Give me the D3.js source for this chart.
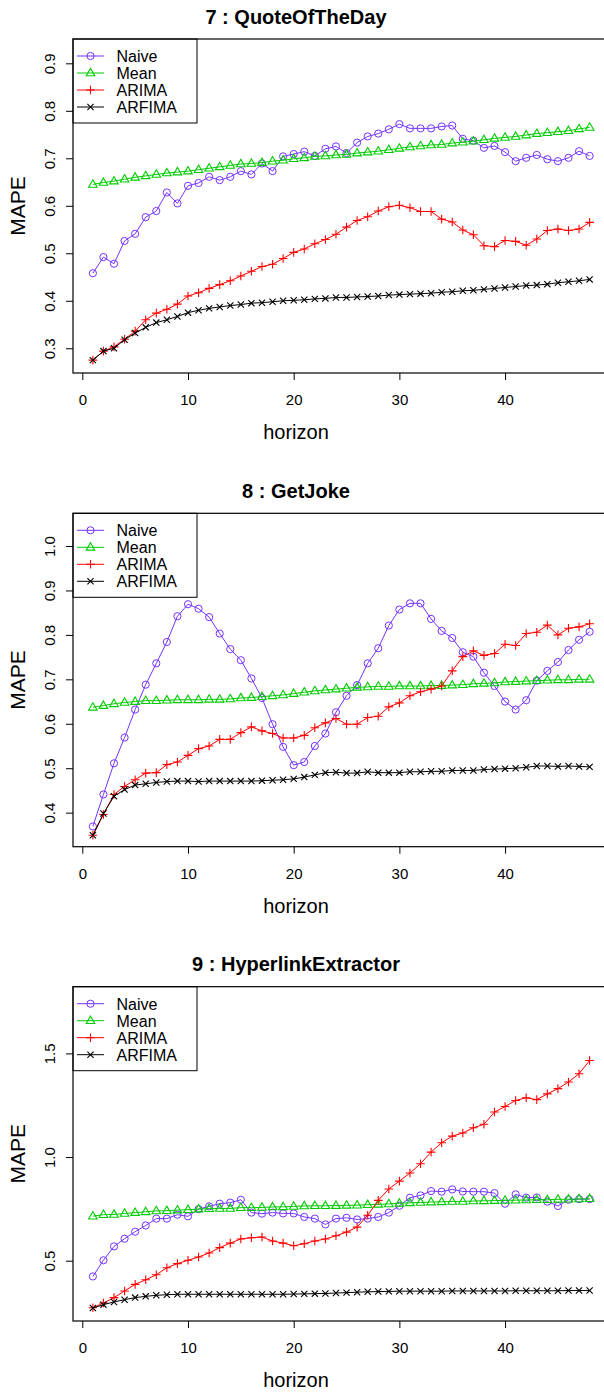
<!DOCTYPE html>
<html><head><meta charset="utf-8">
<script src="https://cdn.jsdelivr.net/npm/d3@7"></script>
<style>
html,body{margin:0;padding:0;background:#fff;}
svg{display:block;font-family:"Liberation Sans",Arial,Helvetica,sans-serif;}
</style></head>
<body>
<svg id="chart" width="604" height="1392"></svg>
<script>
// ---------- data ----------
const horizon = [1,2,3,4,5,6,7,8,9,10,11,12,13,14,15,16,17,18,19,20,21,22,23,24,25,26,27,28,29,30,31,32,33,34,35,36,37,38,39,40,41,42,43,44,45,46,47,48];
const seriesNames = ["Naive","Mean","ARIMA","ARFIMA"];
const xTicks = [0,10,20,30,40];

const titles = ["7 : QuoteOfTheDay","8 : GetJoke","9 : HyperlinkExtractor"];
const yTicks1 = [0.3,0.4,0.5,0.6,0.7,0.8,0.9];
const yTicks2 = [0.4,0.5,0.6,0.7,0.8,0.9,1.0];
const yTicks3 = [0.5,1.0,1.5];

const p1Naive = [0.458,0.492,0.478,0.526,0.541,0.576,0.589,0.628,0.605,0.642,0.648,0.661,0.654,0.661,0.673,0.666,0.689,0.673,0.704,0.709,0.714,0.705,0.720,0.725,0.711,0.733,0.746,0.752,0.761,0.772,0.763,0.763,0.763,0.767,0.769,0.741,0.737,0.722,0.726,0.713,0.694,0.701,0.707,0.698,0.694,0.701,0.715,0.705];
const p1Mean = [0.645,0.649,0.652,0.656,0.660,0.663,0.666,0.669,0.671,0.673,0.676,0.679,0.682,0.685,0.688,0.689,0.691,0.694,0.696,0.699,0.701,0.704,0.705,0.707,0.708,0.711,0.713,0.715,0.718,0.721,0.724,0.726,0.728,0.729,0.732,0.734,0.736,0.739,0.742,0.744,0.746,0.749,0.752,0.754,0.756,0.758,0.762,0.765];
const p1Arima = [0.275,0.294,0.303,0.319,0.336,0.360,0.374,0.382,0.393,0.410,0.417,0.426,0.434,0.442,0.452,0.462,0.472,0.477,0.489,0.502,0.509,0.520,0.529,0.540,0.555,0.569,0.577,0.589,0.598,0.601,0.596,0.588,0.588,0.572,0.566,0.549,0.539,0.516,0.514,0.527,0.525,0.517,0.530,0.548,0.551,0.548,0.551,0.565];
const p1Arfima = [0.275,0.294,0.300,0.318,0.332,0.344,0.354,0.360,0.367,0.375,0.380,0.384,0.387,0.390,0.392,0.395,0.396,0.398,0.400,0.401,0.402,0.404,0.405,0.407,0.407,0.408,0.409,0.410,0.412,0.413,0.414,0.415,0.416,0.418,0.419,0.421,0.422,0.424,0.426,0.428,0.430,0.432,0.433,0.435,0.438,0.440,0.442,0.445];

const p2Naive = [0.369,0.441,0.511,0.569,0.632,0.688,0.736,0.784,0.842,0.869,0.859,0.840,0.803,0.768,0.743,0.702,0.658,0.599,0.548,0.507,0.514,0.550,0.578,0.626,0.663,0.687,0.736,0.770,0.821,0.857,0.871,0.871,0.836,0.809,0.793,0.761,0.751,0.715,0.685,0.650,0.632,0.653,0.697,0.719,0.739,0.766,0.789,0.807];
const p2Mean = [0.637,0.641,0.645,0.648,0.650,0.652,0.652,0.653,0.654,0.654,0.654,0.655,0.655,0.656,0.658,0.659,0.661,0.663,0.665,0.668,0.671,0.674,0.676,0.678,0.680,0.682,0.683,0.684,0.684,0.685,0.685,0.685,0.686,0.686,0.687,0.688,0.690,0.691,0.692,0.694,0.695,0.696,0.697,0.698,0.699,0.699,0.700,0.700];
const p2Arima = [0.349,0.396,0.441,0.459,0.474,0.489,0.490,0.508,0.514,0.529,0.544,0.550,0.565,0.565,0.580,0.593,0.584,0.578,0.568,0.568,0.574,0.591,0.602,0.612,0.599,0.599,0.614,0.617,0.638,0.647,0.663,0.672,0.678,0.685,0.719,0.751,0.764,0.754,0.758,0.779,0.776,0.803,0.806,0.822,0.800,0.815,0.818,0.825];
const p2Arfima = [0.349,0.398,0.437,0.452,0.462,0.465,0.468,0.470,0.471,0.471,0.470,0.471,0.471,0.471,0.471,0.471,0.472,0.473,0.474,0.476,0.480,0.485,0.490,0.491,0.489,0.489,0.492,0.490,0.490,0.490,0.492,0.492,0.493,0.493,0.495,0.495,0.495,0.497,0.498,0.499,0.500,0.502,0.505,0.505,0.504,0.505,0.504,0.503];

const p3Naive = [0.424,0.502,0.569,0.606,0.640,0.670,0.703,0.703,0.722,0.714,0.749,0.762,0.775,0.780,0.794,0.732,0.727,0.732,0.728,0.728,0.711,0.703,0.675,0.703,0.707,0.699,0.703,0.711,0.732,0.765,0.804,0.815,0.836,0.833,0.844,0.834,0.833,0.833,0.826,0.775,0.820,0.804,0.805,0.785,0.764,0.794,0.797,0.797];
const p3Mean = [0.715,0.722,0.723,0.728,0.732,0.736,0.740,0.741,0.744,0.746,0.749,0.751,0.752,0.752,0.756,0.756,0.757,0.759,0.760,0.762,0.764,0.765,0.765,0.766,0.767,0.768,0.770,0.772,0.774,0.777,0.779,0.781,0.783,0.784,0.786,0.786,0.788,0.789,0.790,0.791,0.792,0.793,0.794,0.794,0.796,0.797,0.798,0.799];
const p3Arima = [0.273,0.296,0.322,0.354,0.386,0.408,0.432,0.466,0.486,0.502,0.518,0.537,0.563,0.585,0.605,0.611,0.614,0.595,0.585,0.572,0.582,0.595,0.605,0.620,0.638,0.662,0.719,0.791,0.846,0.884,0.923,0.968,1.024,1.069,1.101,1.116,1.141,1.158,1.217,1.244,1.273,1.286,1.277,1.305,1.330,1.362,1.402,1.466];
const p3Arfima = [0.272,0.288,0.301,0.312,0.322,0.328,0.333,0.336,0.338,0.338,0.338,0.338,0.338,0.338,0.338,0.338,0.338,0.338,0.338,0.339,0.340,0.341,0.342,0.344,0.346,0.348,0.350,0.351,0.352,0.353,0.353,0.353,0.353,0.353,0.354,0.354,0.354,0.354,0.354,0.354,0.355,0.355,0.355,0.355,0.355,0.356,0.356,0.356];

// ---------- styling / layout ----------
const colors = {Naive:"#7433FF", Mean:"#00CC00", ARIMA:"#FF0000", ARFIMA:"#000000"};
const shapes = {Naive:"circle", Mean:"triangle", ARIMA:"plus", ARFIMA:"cross"};

const panels = [
  {title:titles[0], top:39,    bottom:373,  yDomain:[0.2479,0.9512], yTicks:yTicks1, data:[p1Naive,p1Mean,p1Arima,p1Arfima]},
  {title:titles[1], top:513.3, bottom:846.7,yDomain:[0.3234,1.0736], yTicks:yTicks2, data:[p2Naive,p2Mean,p2Arima,p2Arfima]},
  {title:titles[2], top:986.7, bottom:1321, yDomain:[0.2091,1.8218], yTicks:yTicks3, data:[p3Naive,p3Mean,p3Arima,p3Arfima]}
];

const svg = d3.select("#chart");
const left = 73, right = 609.5;
const x = d3.scaleLinear().domain([-0.88, 49.88]).range([left, right]);
const centerX = 296;

function markerPath(shape){
  switch(shape){
    case "triangle": return "M0,-4.6L4.3,2.8L-4.3,2.8Z";
    case "plus": return "M-4.3,0H4.3M0,-4.3V4.3";
    case "cross": return "M-3.1,-3.1L3.1,3.1M-3.1,3.1L3.1,-3.1";
  }
  return null;
}
function drawMarker(g, shape, color, cx, cy){
  if(shape==="circle"){
    g.append("circle").attr("cx",cx).attr("cy",cy).attr("r",3.6)
      .attr("fill","none").attr("stroke",color).attr("stroke-width",1);
  } else {
    g.append("path").attr("d",markerPath(shape)).attr("transform",`translate(${cx},${cy})`)
      .attr("fill","none").attr("stroke",color).attr("stroke-width",1.1);
  }
}

panels.forEach(p=>{
  const y = d3.scaleLinear().domain(p.yDomain).range([p.bottom, p.top]);
  const g = svg.append("g");

  // title
  g.append("text").attr("x",centerX).attr("y",p.top-15.5).attr("text-anchor","middle")
    .attr("font-weight","bold").attr("font-size",20).text(p.title);

  // series
  const line = d3.line().x((d,i)=>x(horizon[i])).y(d=>y(d));
  p.data.forEach((vals,si)=>{
    const name = seriesNames[si];
    g.append("path").attr("d",line(vals)).attr("fill","none")
      .attr("stroke",colors[name]).attr("stroke-width",1);
    const mg = g.append("g");
    vals.forEach((v,i)=>drawMarker(mg, shapes[name], colors[name], x(horizon[i]), y(v)));
  });

  // x axis
  const xa = g.append("g").attr("transform",`translate(0,${p.bottom})`)
    .call(d3.axisBottom(x).tickValues(xTicks).tickSize(7).tickFormat(d3.format("d")));
  xa.select(".domain").remove();
  xa.selectAll(".tick line").attr("stroke","#000");
  xa.selectAll("text").attr("font-size",15).attr("fill","#000").attr("font-family",null)
    .attr("y",32).attr("dy",null);

  // y axis
  const ya = g.append("g").attr("transform",`translate(${left},0)`)
    .call(d3.axisLeft(y).tickValues(p.yTicks).tickSize(7).tickFormat(d3.format(".1f")));
  ya.select(".domain").remove();
  ya.selectAll(".tick line").attr("stroke","#000");
  ya.selectAll("text").attr("font-size",15).attr("fill","#000").attr("font-family",null)
    .attr("x",0).attr("y",-18).attr("dy",null).attr("text-anchor","middle")
    .attr("transform","rotate(-90)");

  // axis titles
  g.append("text").attr("x",centerX).attr("y",p.bottom+66).attr("text-anchor","middle")
    .attr("font-size",20).text("horizon");
  const my = (p.top+p.bottom)/2;
  g.append("text").attr("transform",`translate(25,${my}) rotate(-90)`).attr("text-anchor","middle")
    .attr("font-size",21).text("MAPE");

  // legend
  const lg = g.append("g");
  lg.append("rect").attr("x",left).attr("y",p.top).attr("width",124).attr("height",84)
    .attr("fill","#fff").attr("stroke","#000").attr("stroke-width",1);
  seriesNames.forEach((name,i)=>{
    const ly = p.top + 17 + i*17;
    lg.append("line").attr("x1",77).attr("x2",104).attr("y1",ly).attr("y2",ly)
      .attr("stroke",colors[name]).attr("stroke-width",1);
    drawMarker(lg, shapes[name], colors[name], 90.5, ly);
    lg.append("text").attr("x",116.5).attr("y",ly+5.8).attr("font-size",16).text(name);
  });

  // box
  g.append("rect").attr("x",left).attr("y",p.top).attr("width",right-left).attr("height",p.bottom-p.top)
    .attr("fill","none").attr("stroke","#000").attr("stroke-width",1.2);
});
</script>
</body></html>
